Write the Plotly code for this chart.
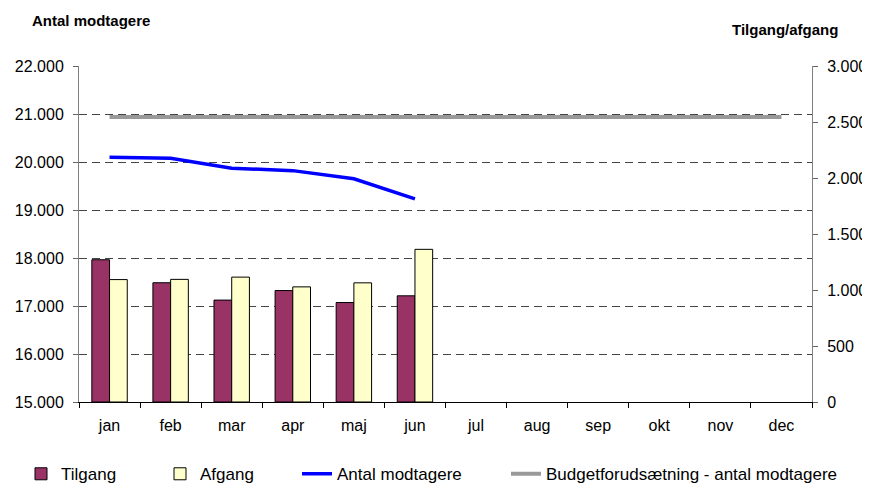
import plotly.graph_objects as go

months = ["jan", "feb", "mar", "apr", "maj", "jun", "jul", "aug", "sep", "okt", "nov", "dec"]
tilgang = [1270, 1065, 910, 995, 888, 948]
afgang = [1093, 1095, 1115, 1028, 1064, 1363]
antal_modtagere = [20100, 20080, 19870, 19820, 19650, 19230]
budget = [20940] * 12

left_ticks = [15000, 16000, 17000, 18000, 19000, 20000, 21000, 22000]
right_ticks = [0, 500, 1000, 1500, 2000, 2500, 3000]

FONT = "Liberation Sans, Arial, sans-serif"

fig = go.Figure()
fig.add_trace(go.Bar(x=months[:len(tilgang)], y=tilgang, name="Tilgang", yaxis="y2",
                     marker=dict(color="#993366", line=dict(color="#000000", width=1)),
                     legend="legend", showlegend=True))
fig.add_trace(go.Bar(x=months[:len(afgang)], y=afgang, name="Afgang", yaxis="y2",
                     marker=dict(color="#FFFFCC", line=dict(color="#000000", width=1)),
                     legend="legend2", showlegend=True))
fig.add_trace(go.Scatter(x=months[:len(antal_modtagere)], y=antal_modtagere, name="Antal modtagere",
                         mode="lines", line=dict(color="#0000FF", width=3.5), legend="legend3",
                         showlegend=True))
fig.add_trace(go.Scatter(x=months, y=budget, name="Budgetforudsætning - antal modtagere",
                         mode="lines", line=dict(color="#999999", width=4), legend="legend4",
                         showlegend=True))

lg = dict(orientation="h", yanchor="middle", y=-0.215, xanchor="left",
          font=dict(family=FONT, size=17, color="#000000"), bgcolor="rgba(0,0,0,0)",
          borderwidth=0)

# The page body has an 8px margin, so the figure is sized 8px smaller
fig.update_layout(
    width=862, height=476,
    margin=dict(l=71, r=58, t=58, b=82, autoexpand=False),
    showlegend=True,
    paper_bgcolor="#FFFFFF", plot_bgcolor="#FFFFFF",
    separators=",.",
    barmode="group", bargap=0.42, bargroupgap=0,
    font=dict(family=FONT, size=16, color="#000000"),
    xaxis=dict(type="category", categoryorder="array", categoryarray=months,
               range=[-0.5, 11.5], showline=True, linecolor="#000000", linewidth=1,
               ticks="outside", tickson="boundaries", ticklen=5, tickcolor="#000000",
               showgrid=False, zeroline=False, tickfont=dict(size=16), ticklabelstandoff=9),
    yaxis=dict(range=[15000, 22000], tickvals=left_ticks, tickformat=",d",
               showline=True, linecolor="#808080", linewidth=1,
               ticks="outside", ticklen=5, tickcolor="#666666",
               showgrid=True, gridcolor="#444444", gridwidth=1, griddash="8px,5px",
               zeroline=False, tickfont=dict(size=16), ticklabelstandoff=6),
    yaxis2=dict(range=[0, 3000], tickvals=right_ticks, tickformat=",d",
                overlaying="y", side="right",
                showline=True, linecolor="#808080", linewidth=1,
                ticks="outside", ticklen=5, tickcolor="#666666",
                showgrid=False, zeroline=False, tickfont=dict(size=16), ticklabelstandoff=6),
    legend=dict(lg, x=(21 - 79) / 733),
    legend2=dict(lg, x=(160 - 79) / 733),
    legend3=dict(lg, x=(297 - 79) / 733),
    legend4=dict(lg, x=(506 - 79) / 733),
    annotations=[
        dict(text="<b>Antal modtagere</b>", xref="paper", yref="paper",
             x=(30 - 79) / 733, y=(402 - 20) / 336, xanchor="left", yanchor="middle",
             showarrow=False, font=dict(family=FONT, size=15, color="#000000")),
        dict(text="<b>Tilgang/afgang</b>", xref="paper", yref="paper",
             x=(840 - 79) / 733, y=(402 - 30) / 336, xanchor="right", yanchor="middle",
             showarrow=False, font=dict(family=FONT, size=15, color="#000000")),
    ],
)

fig.write_html("out.html")
